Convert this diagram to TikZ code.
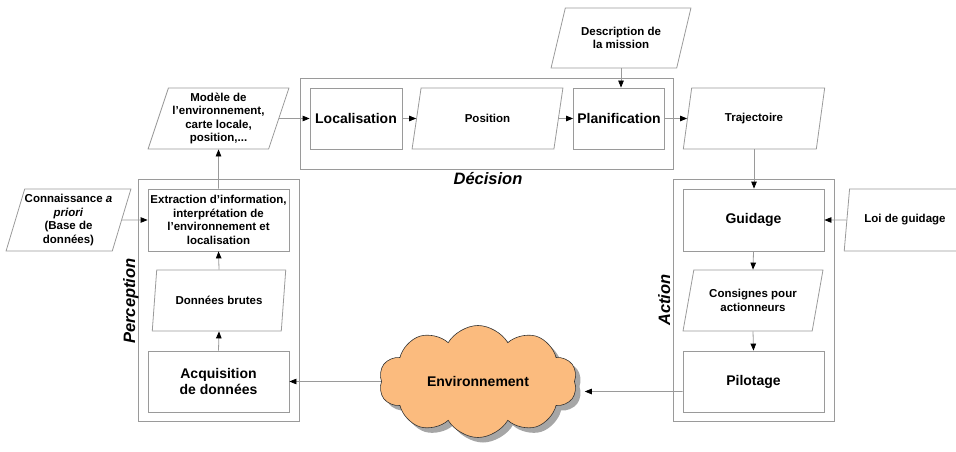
\documentclass[tikz,border=0pt]{standalone}
\usepackage{fontspec}
\setmainfont{Liberation Sans}
\usetikzlibrary{shapes.geometric,shapes.symbols,shadows,arrows.meta,positioning}
\definecolor{linegray}{HTML}{9A9A9A}
\definecolor{cloudfill}{HTML}{FBBB7E}
\tikzset{>={Triangle[length=7pt,width=5.5pt,black]}}
\newcommand{\smallfont}{\fontsize{11.5}{13.5}\selectfont\bfseries}
\newcommand{\bigfont}{\fontsize{14}{16.5}\selectfont\bfseries}

\begin{document}
\begin{tikzpicture}[x=1pt,y=-1pt,
                    group/.style={draw=linegray, line width=0.8pt, rectangle, inner sep=0pt},
                    box/.style={draw=linegray, line width=0.8pt, rectangle, inner sep=0pt, minimum height=61pt, align=center},
                    data/.style={draw=linegray, line width=0.8pt, trapezium, trapezium left angle=70, trapezium right angle=110, trapezium stretches=true, inner sep=0pt, minimum height=61pt, align=center, font=\smallfont},
                    grouplabel/.style={font=\fontsize{16.5}{18}\selectfont\bfseries\itshape},
                    flow/.style={draw=linegray, line width=0.8pt, ->},
                   ]

\useasboundingbox (0,0) rectangle (956,452);

% groupes
\node[group, minimum width=373pt, minimum height=91pt] (dec) at (486.5,123.5) {};
\node[group, minimum width=161pt, minimum height=242pt] (per) at (218.5,300) {};
\node[group, minimum width=161pt, minimum height=242pt] (act) at (753.5,300) {};
\node[grouplabel, anchor=base] at (488,184) {Décision};
\node[grouplabel, rotate=90, anchor=base] at (135,301) {Perception};
\node[grouplabel, rotate=90, anchor=base] at (670,300) {Action};

% decision
\node[data, minimum width=141pt] (mod) at (218.5,118.5) {Modèle de\\l’environnement,\\carte locale,\\position,...};
\node[box, minimum width=92pt, font=\bigfont] (loc) at (356,118.5) {Localisation};
\node[data, minimum width=151pt] (pos) at (487.5,118.5) {Position};
\node[box, minimum width=91pt, font=\bigfont] (plan) at (619,118.5) {Planification};
\node[data, minimum width=142pt] (traj) at (754,118.5) {Trajectoire};
\node[data, minimum width=141pt, minimum height=60pt, trapezium left angle=65, trapezium right angle=115] (desc) at (621,38) {Description de\\la mission};

% perception
\node[data, minimum width=121pt, minimum height=62pt] (con) at (68.5,220) {Connaissance \textit{a}\\\textit{priori}\\(Base de\\données)};
\node[box, minimum width=141pt, minimum height=62pt, font=\smallfont] (ext) at (218.5,220) {Extraction d’information,\\interprétation de\\l’environnement et\\localisation};
\node[data, minimum width=134pt] (dbr) at (219,300.5) {Données brutes};
\node[box, minimum width=141pt, font=\bigfont] (acq) at (218.5,381.5) {Acquisition\\de données};

% action
\node[box, minimum width=141pt, minimum height=62pt, font=\bigfont] (gui) at (753.5,220) {Guidage};
\node[data, minimum width=122pt, minimum height=62pt] (loi) at (905,220) {Loi de guidage};
\node[data, minimum width=140pt] (cns) at (753,300.5) {Consignes pour\\actionneurs};
\node[box, minimum width=141pt, font=\bigfont] (pil) at (753.5,381.5) {Pilotage};

% environnement
\node[cloud, cloud puffs=10, cloud puff arc=120, cloud ignores aspect, draw=black!80, line width=0.6pt, fill=cloudfill,
      minimum width=198pt, minimum height=112pt, inner sep=0pt, font=\bigfont,
      drop shadow={shadow xshift=5pt, shadow yshift=-5pt, fill=black!35, opacity=1}] (env) at (478,381.5) {Environnement};

% fleches
\draw[flow] (mod.east) -- (loc.west);
\draw[flow] (loc.east) -- (pos.west);
\draw[flow] (pos.east) -- (plan.west);
\draw[flow] (plan.east) -- (traj.west);
\draw[flow] (desc.south) -- (desc.south |- plan.north);
\draw[flow] (traj.south) -- (traj.south |- gui.north);
\draw[flow] (loi.west) -- (gui.east);
\draw[flow] (gui.south) -- (cns.north);
\draw[flow] (cns.south) -- (pil.north);
\draw[flow] ([yshift=-10pt]pil.west) -- ([yshift=-10pt,xshift=10pt]env.east);
\draw[flow] (env.west) -- (acq.east);
\draw[flow] (acq.north) -- (dbr.south);
\draw[flow] (dbr.north) -- (ext.south);
\draw[flow] (ext.north) -- (mod.south);
\draw[flow] (con.east) -- (ext.west);

\end{tikzpicture}
\end{document}
